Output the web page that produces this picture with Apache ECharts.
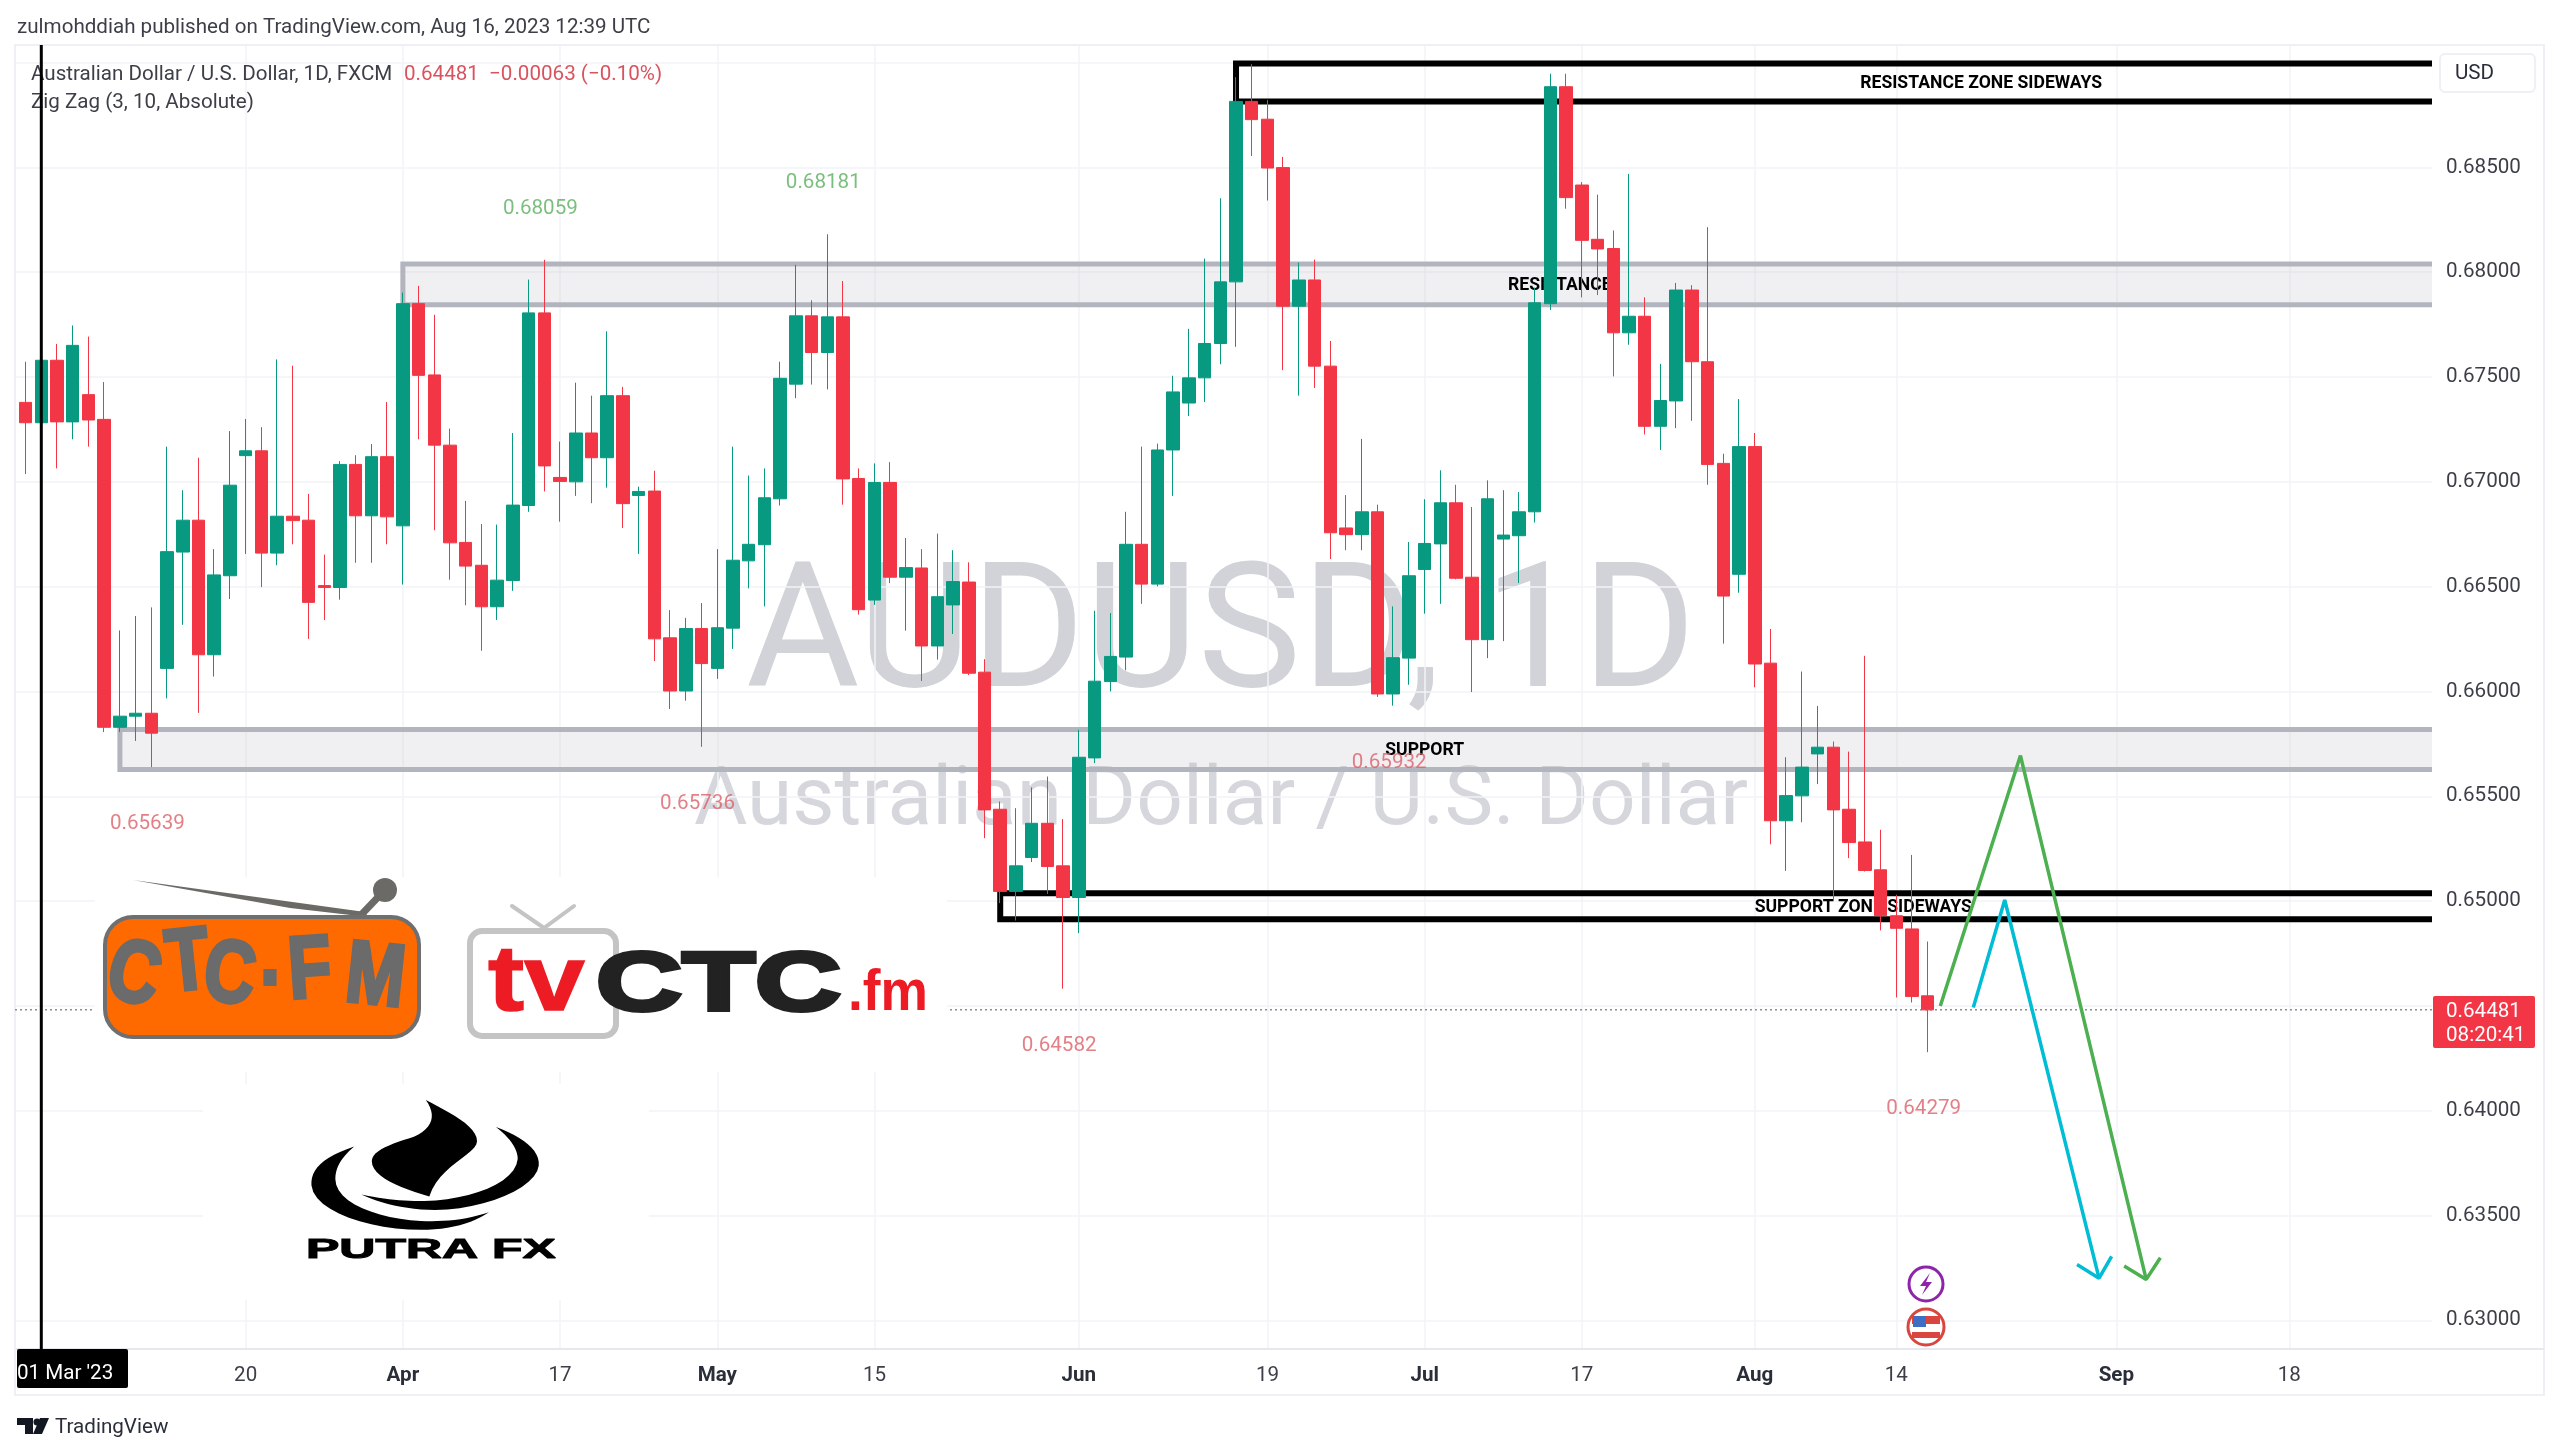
<!DOCTYPE html>
<html><head><meta charset="utf-8"><title>AUDUSD 1D</title>
<style>html,body{margin:0;padding:0;background:#fff}#c{width:2560px;height:1455px}</style>
<script src="https://cdn.jsdelivr.net/npm/echarts@6/dist/echarts.min.js"></script>
</head><body><div id="c"></div>
<script>
const opens=[.67379,.67282,.6758,.67286,.67416,.67298,.65829,.65882,.65896,.6611,.66665,.66817,.66175,.66552,.67125,.67148,.6666,.66836,.66817,.66505,.66496,.67083,.66838,.6712,.6679,.6785,.6751,.67175,.66711,.66602,.66404,.66529,.66887,.67806,.67021,.67,.67233,.67115,.67411,.66935,.66956,.66256,.66002,.663,.6611,.66302,.66623,.667,.66919,.67466,.67792,.67617,.67787,.67016,.66436,.66997,.66545,.66589,.66217,.66413,.66522,.66092,.65438,.65046,.65208,.65371,.65168,.65017,.65683,.66047,.66164,.66702,.66512,.67152,.67376,.67496,.6766,.67954,.68815,.6873,.68499,.67838,.67963,.67552,.6678,.66748,.66857,.65988,.66159,.66582,.66704,.669,.66545,.66247,.66727,.66743,.66857,.6785,.68885,.68416,.68157,.68113,.67711,.6779,.67265,.67386,.67915,.67573,.67088,.66559,.67168,.66135,.65383,.65502,.65702,.65734,.65438,.65282,.65149,.6493,.64867,.64548];
const closes=[.67282,.6758,.67286,.67651,.67295,.65829,.65882,.65896,.65801,.66667,.66817,.66175,.66556,.66984,.67148,.6666,.66836,.66815,.66425,.66496,.67083,.66838,.6712,.66833,.6785,.67508,.67175,.66709,.66598,.66404,.66531,.66889,.67806,.67076,.67002,.67233,.67115,.67411,.66896,.66954,.66251,.66002,.663,.66133,.66304,.66626,.66702,.66924,.67494,.67792,.67617,.67787,.67014,.6639,.66997,.66545,.66591,.66217,.66452,.66524,.66087,.65435,.65046,.65168,.65371,.65165,.65017,.65686,.66049,.66167,.66702,.66512,.67152,.67429,.67496,.6766,.67954,.68815,.68728,.68497,.67838,.67963,.67552,.66757,.66748,.66857,.65988,.66161,.66552,.66706,.669,.6654,.66247,.66919,.66746,.66857,.67854,.68885,.68356,.68152,.68111,.67711,.6779,.67265,.67388,.67915,.67573,.67083,.66455,.67168,.66131,.65383,.65503,.65639,.65734,.65435,.65279,.65146,.6493,.6487,.64545,.64481];
const lows=[.67037,.6696,.67064,.67203,.67168,.65806,.65806,.65764,.65639,.65967,.66318,.65898,.66071,.66441,.66656,.66498,.66602,.66702,.66251,.66341,.66438,.66614,.66614,.66702,.6651,.67203,.66769,.66533,.66411,.66194,.66341,.6648,.66857,.66954,.6681,.66933,.66898,.66972,.6678,.66656,.66145,.65916,.65956,.65736,.6606,.66203,.66492,.66406,.66887,.67399,.67464,.67441,.66891,.66367,.66413,.66517,.6629,.6605,.66152,.66274,.66078,.653,.6499,.64907,.65186,.65034,.64582,.64847,.65658,.66,.66101,.66418,.66501,.66933,.67314,.67381,.67561,.67644,.68554,.68342,.67533,.67411,.67448,.66632,.66674,.66674,.65974,.65932,.66032,.66371,.66418,.66535,.65997,.66159,.6624,.66517,.66806,.6782,.68303,.6788,.67891,.67503,.67654,.67226,.67152,.67256,.67291,.66986,.66228,.66471,.6602,.65271,.65144,.65376,.65558,.65,.65205,.65141,.6486,.6454,.64516,.64279];
const highs=[.67573,.67838,.67658,.67746,.67693,.67476,.66291,.6636,.66401,.67168,.6696,.67115,.66679,.67242,.673,.67261,.67584,.67554,.66942,.66653,.67099,.67127,.6718,.67381,.67903,.67935,.67797,.67254,.66909,.66799,.66796,.67233,.67965,.68059,.67192,.67473,.67411,.67718,.67453,.66977,.67053,.66388,.66351,.66422,.66679,.67168,.6703,.67064,.67573,.68035,.67866,.68181,.67958,.67064,.67088,.67094,.66732,.66679,.66753,.66674,.66616,.66154,.65475,.65443,.65542,.65594,.65391,.65817,.66385,.66374,.66857,.67168,.67182,.67506,.6773,.68065,.68353,.68931,.68993,.68822,.6855,.68046,.6806,.67672,.66937,.67205,.66891,.66406,.66713,.66917,.67055,.66986,.6688,.67007,.6696,.66951,.67926,.68947,.68947,.6843,.6837,.68199,.68469,.6788,.67563,.67949,.67938,.68215,.67134,.67395,.67233,.66298,.65686,.66095,.65931,.65761,.65713,.6617,.6534,.6503,.6522,.64807];

// weekday session dates, first session on the chart is 28 Feb 2023
const dates=[];for(let d=new Date(Date.UTC(2023,1,28));d<=new Date(Date.UTC(2023,8,30));d=new Date(+d+864e5)){const w=d.getUTCDay();if(w&&w<6)dates.push(d.toISOString().slice(0,10));}
const tickDates=['2023-03-20','2023-04-03','2023-04-17','2023-05-01','2023-05-15','2023-06-01','2023-06-19','2023-07-03','2023-07-17','2023-08-01','2023-08-14','2023-09-01','2023-09-18'];
const tickLabels=['20','Apr','17','May','15','Jun','19','Jul','17','Aug','14','Sep','18'];
const tickStrong=['Apr','May','Jun','Jul','Aug','Sep'];
const priceTicks=[.63,.635,.64,.645,.65,.655,.66,.665,.67,.675,.68,.685,.69];
const priceLabels=['0.63000','0.63500','0.64000','0.64500','0.65000','0.65500','0.66000','0.66500','0.67000','0.67500','0.68000','0.68500',''];
const lastPrice=.64481;
const markedDate='2023-03-01';

const zigHighIdx=[33,51];
const zigHighVal=[.68059,.68181];
const zigLowIdx=[8,43,66,87,121];
const zigLowVal=[.65639,.65736,.64582,.65932,.64279];

const zoneNames=['RESISTANCE ZONE SIDEWAYS','RESISTANCE','SUPPORT','SUPPORT ZONE SIDEWAYS'];
const zoneStart=[77,24,6,62];
const zoneTop=[.68996,.68039,.65819,.65037];
const zoneBottom=[.68815,.67845,.65628,.64913];
const zoneLabelAt=[124.4,97.6,89,116.9];
const zoneKind=['black','grey','grey','black'];

const greenPathX=[121.8,126.9,134.9],greenPathP=[.64499,.65694,.63195];
const greenHeadX=[133.5,134.9,135.8],greenHeadP=[.63259,.63195,.63298];
const cyanPathX=[123.9,125.9,131.9],cyanPathP=[.64492,.65005,.63201];
const cyanHeadX=[130.5,131.9,132.7],cyanHeadP=[.63266,.63201,.63305];

const xMin=-0.673,xMax=153.08,yMin=.62863,yMax=.69084;
const UP='#089981',DOWN='#f23645',F='Roboto,"Noto Sans",sans-serif';
const candles=opens.map((o,i)=>[i,o,closes[i],lows[i],highs[i]]);
const tickIdx=tickDates.map(d=>dates.indexOf(d));
const markedIdx=dates.indexOf(markedDate);
const labelOf=v=>{const i=tickIdx.indexOf(v);return i<0?'':(tickStrong.includes(tickLabels[i])?'{b|'+tickLabels[i]+'}':tickLabels[i]);};

const zx=x=>x/1.4255,zy=y=>y/2.256+760;
// sample an "M x y C ... Z" outline into polygon points
function outline(d){const n=d.match(/-?\d+(\.\d+)?/g).map(Number);const pts=[[zx(n[0]),zy(n[1])]];let px=n[0],py=n[1];
 for(let i=2;i+5<n.length;i+=6){for(let t=1;t<=12;t++){const s=t/12,u=1-s;
  const x=u*u*u*px+3*u*u*s*n[i]+3*u*s*s*n[i+2]+s*s*s*n[i+4],y=u*u*u*py+3*u*u*s*n[i+1]+3*u*s*s*n[i+3]+s*s*s*n[i+5];pts.push([zx(x),zy(y)]);}
  px=n[i+4];py=n[i+5];}
 return pts;}
const T=(text,x,y,font,fill,o={})=>Object.assign({type:'text',x,y,z:o.z??60,style:Object.assign({text,font,fill,textAlign:o.align||'left',textVerticalAlign:o.va||'middle'},o.st||{})},o.el||{});
const R=(x,y,w,h,st,o={})=>({type:'rect',z:o.z??60,shape:{x,y,width:w,height:h,r:o.r||0},style:st});
const L=(x1,y1,x2,y2,stroke,w,z=60)=>({type:'line',z,shape:{x1,y1,x2,y2},style:{stroke,lineWidth:w}});
const Pth=(d,fill,z=61)=>({type:'polygon',z,shape:{points:outline(d)},style:{fill}});
const PL=(pts,stroke,w,z=61)=>({type:'polyline',z,shape:{points:pts},style:{stroke,lineWidth:w,fill:'none',lineCap:'round'}});

const logoLetters=[['C',190,490,-14],['T',268,462,6],['C',327,490,-8],['.',385,450,0],['F',442,480,4],['M',535,495,-6]];
const FS='20.6px '+F;
const graphics=[
 T('zulmohddiah published on TradingView.com, Aug 16, 2023 12:39 UTC',17,28,FS,'#3c3f47'),
 R(15,45,2529,1350,{fill:'none',stroke:'#eef0f5',lineWidth:2},{z:1}),
 L(2432,1349,2544,1349,'#e6e8ef',2,1),
 T('Australian Dollar / U.S. Dollar, 1D, FXCM',31,74.5,FS,'#3c3f47',{z:7}),
 T('0.64481  −0.00063 (−0.10%)',404,74.5,FS,'#d9535e',{z:7}),
 T('Zig Zag (3, 10, Absolute)',31,102.5,FS,'#3c3f47',{z:7}),
 T('AUDUSD, 1D',1221,642,'174px '+F,'#d1d3d8',{align:'center',z:0}),
 T('Australian Dollar / U.S. Dollar',1221,803,'82px '+F,'#d5d7dc',{align:'center',z:0}),
 R(2440,54,95,38,{fill:'#fff',stroke:'#eef0f5',lineWidth:2},{r:5}),
 T('USD',2455,74,FS,'#2a2e39'),
 R(2433,996,102,52,{fill:'#f23645'},{r:2}),
 T('0.64481',2446,1012,FS,'#fff'),
 T('08:20:41',2446,1036,FS,'#fff'),
 R(17,1349,111,39,{fill:'#000'},{r:2}),
 T("01 Mar '23",17,1374,FS,'#fff'),
 {type:'polygon',z:60,shape:{points:[[17,1418],[33,1418],[33,1434],[25,1434],[25,1425],[17,1425]]},style:{fill:'#131722'}},
 {type:'polygon',z:60,shape:{points:[[40,1418],[49,1418],[42,1434],[33,1434]]},style:{fill:'#131722'}},
 {type:'circle',z:60,shape:{cx:37,cy:1422,r:3.5},style:{fill:'#131722'}},
 T('TradingView',55,1428,FS,'#2a2e39'),
 R(95,877,852,195,{fill:'#fff'},{z:40}),
 R(203,1084,446,216,{fill:'#fff'},{z:40}),
 {type:'polygon',z:61,shape:{points:[[133,880],[365,912],[368,917],[290,908]]},style:{fill:'#6c6a66'}},
 L(361,915,382,893,'#6c6a66',7,61),
 {type:'circle',z:61,shape:{cx:385,cy:890,r:12},style:{fill:'#6c6a66'}},
 R(105,917,314,120,{fill:'#ff6a00',stroke:'#6f6f6f',lineWidth:4},{r:28,z:61}),
 ...logoLetters.map(([c,x,y,rot])=>T(c,zx(x),zy(y),'bold 88px "Liberation Sans"','#6b6b6b',{align:'center',z:62,st:{stroke:'#6b6b6b',lineWidth:4},el:{rotation:rot*Math.PI/180,scaleX:.8}})),
 PL([[512,906],[544,928],[574,906]],'#c4c4c4',4),
 R(470,931,146,105,{fill:'#fff',stroke:'#c4c4c4',lineWidth:6},{r:12,z:61}),
 T('tv',488,985,'bold 92px "Liberation Sans"','#ed1c24',{z:62,st:{stroke:'#ed1c24',lineWidth:1.5},el:{scaleX:1.18}}),
 T('CTC',596,987,'bold 84px "Liberation Sans"','#222',{z:62,st:{stroke:'#222',lineWidth:4},el:{scaleX:1.42}}),
 T('.fm',848,994,'bold 58px "Liberation Sans"','#ed1c24',{z:62,el:{scaleX:.92}}),
 Pth('M607 767 C640 795 680 825 680 860 C680 890 625 915 612 985 C570 965 530 940 530 905 C530 880 560 865 590 850 C618 830 622 800 607 767 Z','#000'),
 Pth('M505 872 C460 895 442 925 444 960 C448 1020 530 1060 600 1060 C640 1060 675 1045 697 1020 C665 1038 630 1042 600 1040 C540 1035 478 1000 478 945 C478 915 490 892 505 872 Z','#000'),
 Pth('M707 828 C745 850 770 880 768 915 C765 965 690 1015 620 1015 C580 1015 540 1000 515 980 C550 992 575 995 605 995 C670 992 735 955 738 900 C738 875 725 850 707 828 Z','#000'),
 T('PUTRA FX',306,1251,'bold 27px "Liberation Sans"','#000',{z:62,st:{stroke:'#000',lineWidth:1},el:{scaleX:1.85}}),
 {type:'circle',z:61,shape:{cx:1926,cy:1284,r:17},style:{fill:'#fff',stroke:'#8e24aa',lineWidth:3}},
 {type:'polygon',z:62,shape:{points:[[1930,1273],[1920,1286],[1926,1286],[1922,1295],[1932,1282],[1926,1282]]},style:{fill:'#8e24aa'}},
 {type:'circle',z:61,shape:{cx:1926,cy:1327,r:18},style:{fill:'#fff',stroke:'#d9453f',lineWidth:3}},
 R(1912,1316,28,8,{fill:'#d9453f'},{z:62}),
 R(1912,1332,28,6,{fill:'#d9453f'},{z:62}),
 R(1913,1316,13,11,{fill:'#3f6fc4'},{z:63}),
];

const option={
 animation:false,backgroundColor:'#fff',textStyle:{fontFamily:F},
 grid:{left:15,right:128,top:45,bottom:106,containLabel:false},
 graphic:{elements:graphics},
 xAxis:{type:'value',min:xMin,max:xMax,boundaryGap:false,scale:true,
  axisLine:{show:true,onZero:false,lineStyle:{color:'#e6e8ef',width:2}},axisTick:{show:false,customValues:tickIdx},
  axisLabel:{customValues:tickIdx,formatter:labelOf,margin:16,fontSize:20.6,color:'#3c3f47',fontFamily:F,rich:{b:{fontSize:20.6,fontWeight:'bold',color:'#2a2e39',fontFamily:F}}},
  splitLine:{show:true,customValues:tickIdx,lineStyle:{color:'#f2f3f7',width:1.5}}},
 yAxis:{type:'value',position:'right',min:yMin,max:yMax,scale:true,
  axisLine:{show:false},axisTick:{show:false,customValues:priceTicks},
  axisLabel:{customValues:priceTicks,formatter:v=>priceLabels[priceTicks.findIndex(t=>Math.abs(t-v)<1e-6)]||'',margin:14,padding:[4,0,0,0],fontSize:20.6,color:'#3c3f47',fontFamily:F},
  splitLine:{show:true,customValues:priceTicks,lineStyle:{color:'#f2f3f7',width:1.5}}},
 series:[
  {type:'custom',name:'zones',z:2,clip:true,coordinateSystem:'cartesian2d',
   encode:{x:0,y:[1,2]},
   data:zoneNames.map((n,i)=>[zoneStart[i],zoneTop[i],zoneBottom[i],i]),
   renderItem(params,api){
    const i=api.value(3),a=api.coord([api.value(0),api.value(1)]),b=api.coord([xMax,api.value(2)]);
    const black=zoneKind[i]==='black',c=black?'#000':'#b2b5be',w=black?6:5;
    const mid=api.coord([zoneLabelAt[i],(zoneTop[i]+zoneBottom[i])/2]);
    return {type:'group',children:[
     {type:'rect',shape:{x:a[0],y:a[1],width:b[0]-a[0],height:b[1]-a[1]},style:{fill:black?'rgba(255,255,255,0)':'rgba(178,181,190,.2)'}},
     {type:'polyline',shape:{points:[[b[0],a[1]],[a[0],a[1]],[a[0],b[1]],[b[0],b[1]]]},style:{stroke:c,lineWidth:w,fill:'none',lineJoin:'miter'}},
     {type:'text',x:mid[0],y:mid[1]+1,style:{text:zoneNames[i],font:'bold 17.6px '+F,fill:'#000',textAlign:'center',textVerticalAlign:'middle'}}
    ]};
   }},
  {type:'line',name:'last price',z:3,symbol:'none',silent:true,data:[[xMin,lastPrice],[xMax,lastPrice]],lineStyle:{color:'#8a8d96',width:1.5,type:[2,3]}},
  {type:'line',name:'marked date',z:50,symbol:'none',silent:true,data:[[markedIdx,yMin],[markedIdx,yMax]],lineStyle:{color:'#000',width:3}},
  {type:'candlestick',name:'AUDUSD',z:45,barWidth:13,data:candles,encode:{x:0,y:[1,2,3,4]},
   itemStyle:{color:UP,color0:DOWN,borderColor:UP,borderColor0:DOWN,borderWidth:1}},
  {type:'line',name:'plan A',z:46,symbol:'none',data:greenPathX.map((x,i)=>[x,greenPathP[i]]),lineStyle:{color:'#4caf50',width:3.5}},
  {type:'line',name:'plan A head',z:46,symbol:'none',data:greenHeadX.map((x,i)=>[x,greenHeadP[i]]),lineStyle:{color:'#4caf50',width:3.5}},
  {type:'line',name:'plan B',z:46,symbol:'none',data:cyanPathX.map((x,i)=>[x,cyanPathP[i]]),lineStyle:{color:'#00bcd4',width:3.5}},
  {type:'line',name:'plan B head',z:46,symbol:'none',data:cyanHeadX.map((x,i)=>[x,cyanHeadP[i]]),lineStyle:{color:'#00bcd4',width:3.5}},
  {type:'scatter',name:'zigzag highs',z:4,symbolSize:1,itemStyle:{color:'rgba(0,0,0,0)'},data:zigHighIdx.map((x,i)=>[x,zigHighVal[i]]),
   label:{show:true,position:'inside',offset:[-4,-51],fontSize:20.6,color:'#5aaf5e',fontFamily:F,formatter:p=>p.value[1].toFixed(5)}},
  {type:'scatter',name:'zigzag lows',z:4,symbolSize:1,itemStyle:{color:'rgba(0,0,0,0)'},data:zigLowIdx.map((x,i)=>[x,zigLowVal[i]]),
   label:{show:true,position:'inside',offset:[-4,57],fontSize:20.6,color:'#dc5f68',fontFamily:F,formatter:p=>p.value[1].toFixed(5)}}
 ]
};
const chart=echarts.init(document.getElementById('c'),null,{renderer:'canvas'});
chart.setOption(option);
</script></body></html>
